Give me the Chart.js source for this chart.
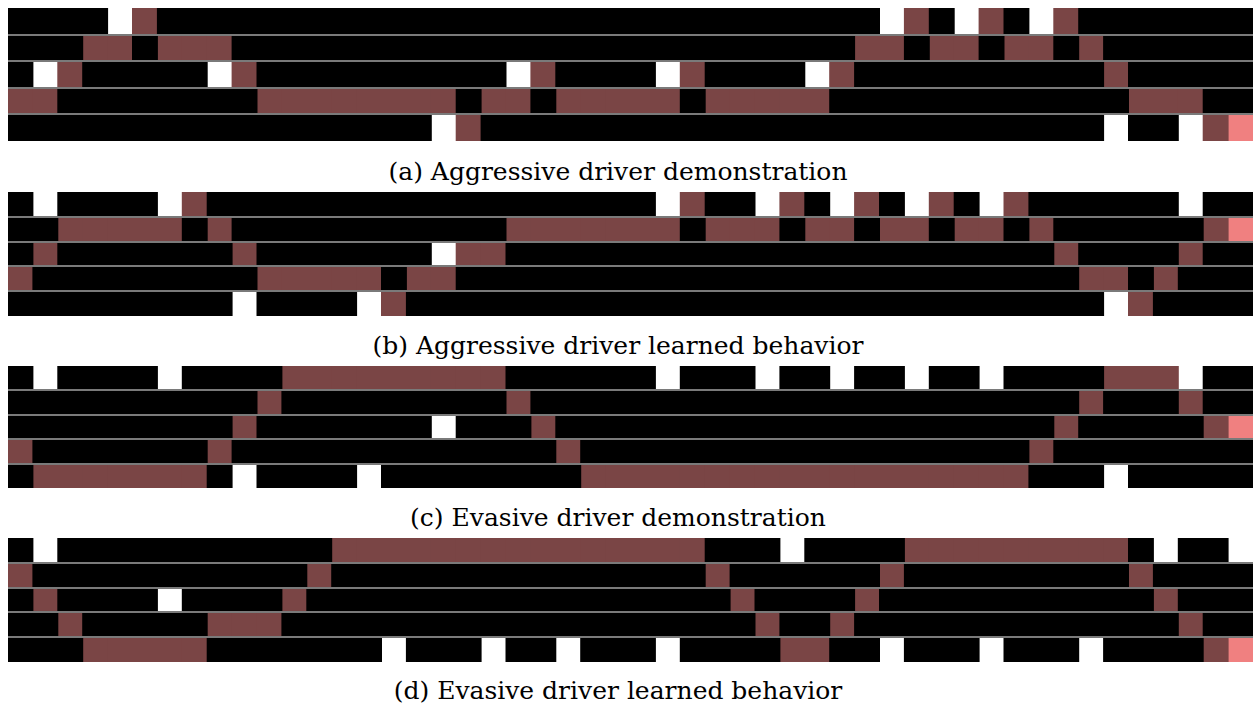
<!DOCTYPE html>
<html>
<head>
<meta charset="utf-8">
<script src="https://cdn.jsdelivr.net/npm/chart.js@4.4.1/dist/chart.umd.min.js"></script>
<style>
  html, body { margin: 0; padding: 0; background: #ffffff; }
  body { width: 1253px; height: 706px; position: relative; overflow: hidden; }
  canvas { position: absolute; left: 8px; }
  .cap {
    position: absolute; left: 0; width: 1236px; text-align: center;
    font-family: "DejaVu Serif", serif; font-size: 25px; line-height: 30px;
    color: #000000; white-space: nowrap;
  }
</style>
</head>
<body>
<canvas id="panelA" width="1245" height="133" style="top:8px"></canvas>
<div class="cap" id="capA" style="top:157px"></div>
<canvas id="panelB" width="1245" height="124" style="top:192px"></canvas>
<div class="cap" id="capB" style="top:331px"></div>
<canvas id="panelC" width="1245" height="122" style="top:366px"></canvas>
<div class="cap" id="capC" style="top:503px"></div>
<canvas id="panelD" width="1245" height="124" style="top:538px"></canvas>
<div class="cap" id="capD" style="top:676px"></div>

<script>
// Cell states per lane and time step: 0 road, 1 vehicle, 2 gap, 3 ego car.
// Each row is one lane; digits are grouped in tens for readability.
const stateNames = ['road', 'vehicle', 'gap', 'ego'];
const stateColors = ['#000000', '#7a4545', '#ffffff', '#f08080'];
const lanes = ['lane 1', 'lane 2', 'lane 3', 'lane 4', 'lane 5'];

const aggressiveDemo = [
  "0000210000 0000000000 0000000000 0000021021 0210000000",
  "0001101110 0000000000 0000000000 0000110110 1101000000",
  "0210000021 0000000000 2100002100 0021000000 0000100000",
  "1100000000 1111111101 1011111011 1110000000 0000011100",
  "0000000000 0000000210 0000000000 0000000000 0000200213"
];
const aggressiveLearned = [
  "0200002100 0000000000 0000002100 2102102102 1000000200",
  "0011111010 0000000000 1111111011 1011011011 0100000013",
  "0100000001 0000000211 0000000000 0000000000 0010000100",
  "1000000000 1111101100 0000000000 0000000000 0001101000",
  "0000000002 0000210000 0000000000 0000000000 0000210000"
];
const evasiveDemo = [
  "0200002000 0111111111 0000002000 2002002002 0000111200",
  "0000000000 1000000000 1000000000 0000000000 0001000100",
  "0000000001 0000000200 0100000000 0000000000 0010000013",
  "1000000010 0000000000 0010000000 0000000000 0100000000",
  "0111111102 0000200000 0001111111 1111111111 1000200000"
];
const evasiveLearned = [
  "0200000000 0001111111 1111111100 0200001111 1111102002",
  "1000000000 0010000000 0000000010 0000010000 0000010000",
  "0100002000 0100000000 0000000001 0000100000 0000001000",
  "0010000011 1000000000 0000000000 1001000000 0000000100",
  "0001111100 0000020002 0020002000 0110020002 0002000013"
];

const captions = [
  '(a) Aggressive driver demonstration',
  '(b) Aggressive driver learned behavior',
  '(c) Evasive driver demonstration',
  '(d) Evasive driver learned behavior'
];

function parseRow(row) {
  return row.replace(/\s+/g, '').split('').map(Number);
}

function buildDatasets(rows) {
  const grid = rows.map(parseRow);
  return stateColors.map((color, s) => ({
    label: stateNames[s],
    backgroundColor: color,
    borderWidth: 0,
    inflateAmount: 0.5,
    barPercentage: 1,
    categoryPercentage: 1,
    grouped: false,
    data: grid.flatMap((cells, r) =>
      cells.flatMap((v, t) => (v === s ? [{ x: [t, t + 1], y: lanes[r] }] : []))
    )
  }));
}

function drawPanel(canvasId, rows) {
  const steps = parseRow(rows[0]).length;
  new Chart(document.getElementById(canvasId), {
    type: 'bar',
    data: { labels: lanes, datasets: buildDatasets(rows) },
    options: {
      indexAxis: 'y',
      responsive: false,
      animation: false,
      devicePixelRatio: 1,
      layout: { padding: 0 },
      plugins: { legend: { display: false }, tooltip: { enabled: false } },
      scales: {
        x: { type: 'linear', min: 0, max: steps, display: false },
        y: {
          type: 'category',
          offset: true,
          afterFit: (scale) => { scale.width = 0; },
          ticks: { display: false },
          border: { display: false },
          grid: {
            offset: true,
            drawTicks: false,
            z: 1,
            lineWidth: 2,
            color: (ctx) => (ctx.index >= 1 && ctx.index < lanes.length) ? '#7a7a7a' : 'rgba(0,0,0,0)'
          }
        }
      }
    }
  });
}

drawPanel('panelA', aggressiveDemo);
drawPanel('panelB', aggressiveLearned);
drawPanel('panelC', evasiveDemo);
drawPanel('panelD', evasiveLearned);

['capA', 'capB', 'capC', 'capD'].forEach((id, i) => {
  document.getElementById(id).textContent = captions[i];
});
</script>
</body>
</html>
